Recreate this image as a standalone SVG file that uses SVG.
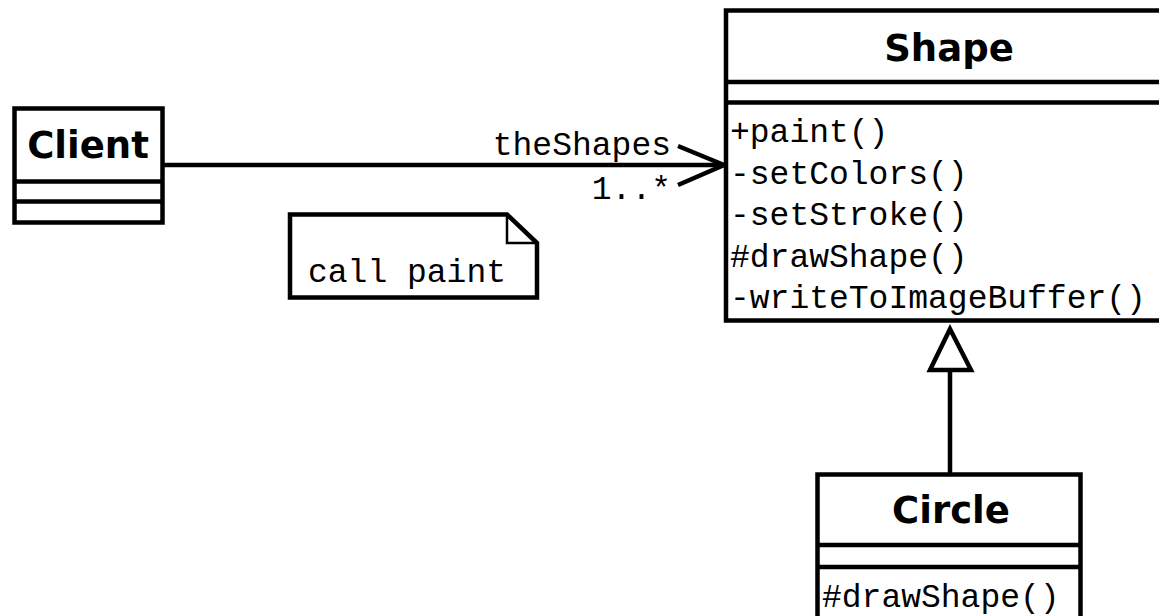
<svg xmlns="http://www.w3.org/2000/svg" width="1159" height="616" viewBox="0 0 1159 616">
<style>
.box{fill:#fff;stroke:#000;stroke-width:4.5}
.ln{fill:none;stroke:#000;stroke-width:4.5}
.thin{fill:none;stroke:#000;stroke-width:2.5}
.title{font-family:"DejaVu Sans",Verdana,sans-serif;font-weight:bold;font-size:37px;fill:#000;text-anchor:middle}
.mono{font-family:'Liberation Mono','Courier New',monospace;font-size:33px;fill:#000}
</style>
<rect width="1159" height="616" fill="#fff"/>
<g id="connectors">
<line class="ln" x1="162.5" y1="165" x2="724" y2="165"/>
<polyline class="ln" points="678,146 724,165 678,185"/>
<text class="mono" x="671" y="155" text-anchor="end">theShapes</text>
<text class="mono" x="671" y="199" text-anchor="end">1..*</text>
<line class="ln" x1="950" y1="370" x2="950" y2="474"/>
<polygon class="box" points="950,329 930,370 971,370"/>
</g>
<g id="client">
<rect class="box" x="14.5" y="108.5" width="148" height="114"/>
<line class="ln" x1="14.5" y1="181.5" x2="162.5" y2="181.5"/>
<line class="ln" x1="14.5" y1="201.5" x2="162.5" y2="201.5"/>
<text class="title" x="88" y="158">Client</text>
</g>
<g id="note">
<path class="box" d="M290,214.5 H507 L537,243 V297.5 H290 Z"/>
<polyline class="thin" points="507,214.5 507,243 537,243"/>
<text class="mono" x="308" y="282">call paint</text>
</g>
<g id="shape">
<rect class="box" x="726" y="10.5" width="448" height="310"/>
<line class="ln" x1="726" y1="82" x2="1174" y2="82"/>
<line class="ln" x1="726" y1="102.5" x2="1174" y2="102.5"/>
<text class="title" x="949" y="61">Shape</text>
<text class="mono" x="730" y="142">+paint()</text>
<text class="mono" x="730" y="183.5">-setColors()</text>
<text class="mono" x="730" y="225">-setStroke()</text>
<text class="mono" x="730" y="266.5">#drawShape()</text>
<text class="mono" x="730" y="308">-writeToImageBuffer()</text>
</g>
<g id="circle">
<rect class="box" x="817.5" y="474.5" width="263" height="170"/>
<line class="ln" x1="817.5" y1="545" x2="1080.5" y2="545"/>
<line class="ln" x1="817.5" y1="567" x2="1080.5" y2="567"/>
<text class="title" x="951" y="523">Circle</text>
<text class="mono" x="822" y="607">#drawShape()</text>
</g>
</svg>
